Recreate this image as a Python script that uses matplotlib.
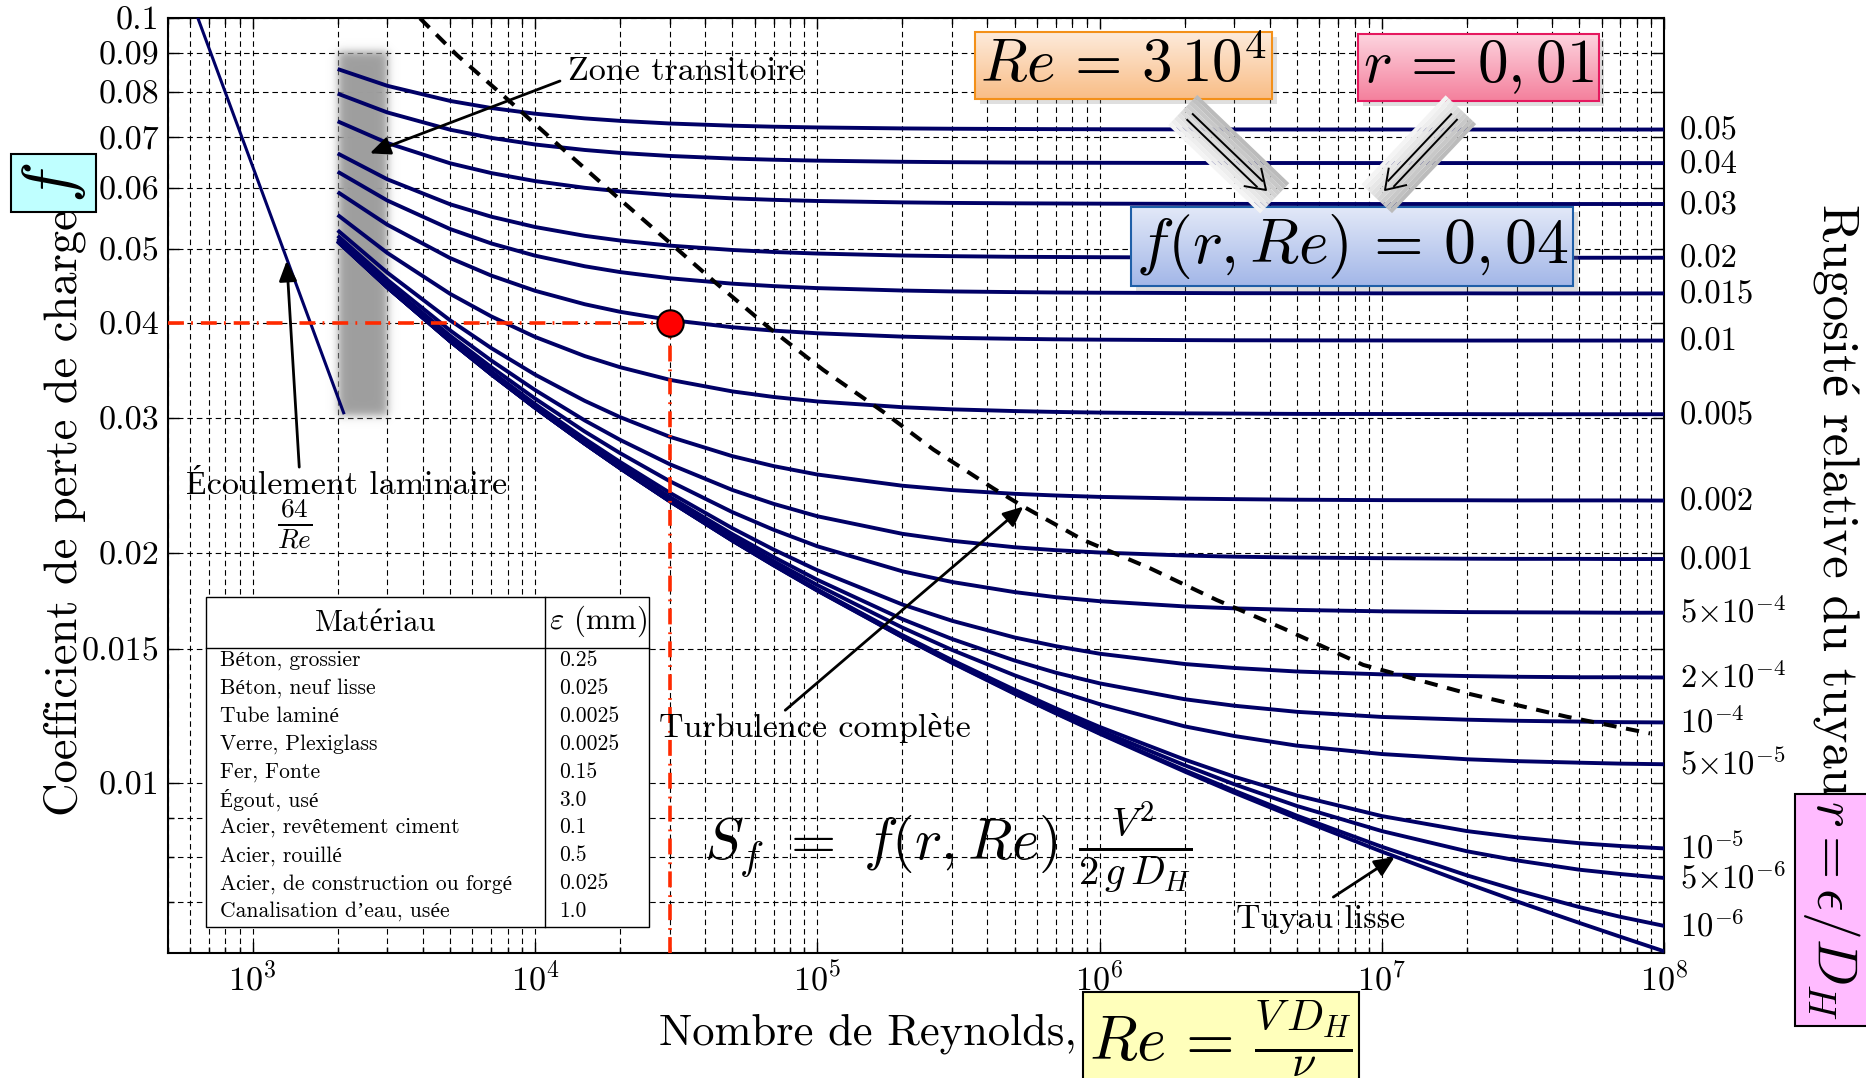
import numpy as np
import matplotlib
matplotlib.use('Agg')
import matplotlib.pyplot as plt
import matplotlib.transforms as mtransforms
from matplotlib.colors import to_rgb
from matplotlib.lines import Line2D
from matplotlib.patches import Rectangle, Polygon
from matplotlib.ticker import FixedLocator, NullFormatter, LogLocator

plt.rcParams['font.family'] = ['cmr10', 'Liberation Serif']
plt.rcParams['mathtext.fontset'] = 'cm'
plt.rcParams['axes.formatter.use_mathtext'] = True

# Reynolds numbers where the friction factor curves are sampled
re_grid = [2e3, 3e3, 5e3, 7e3, 1e4, 1.5e4, 2e4, 3e4, 5e4, 7e4, 1e5, 2e5, 3e5,
           5e5, 7e5, 1e6, 2e6, 3e6, 5e6, 1e7, 2e7, 3e7, 5e7, 7e7, 1e8]

# friction factor f for each relative roughness r
f_005 = [0.08584, 0.08161, 0.07799, 0.07634, 0.07504, 0.07399, 0.07344, 0.07286, 0.07238, 0.07216, 0.07200, 0.07179, 0.07172, 0.07166, 0.07163, 0.07161, 0.07158, 0.07157, 0.07156, 0.07156, 0.07155, 0.07155, 0.07155, 0.07155, 0.07155]
f_004 = [0.07972, 0.07532, 0.07152, 0.06978, 0.06840, 0.06728, 0.06669, 0.06608, 0.06556, 0.06533, 0.06515, 0.06493, 0.06485, 0.06478, 0.06475, 0.06473, 0.06470, 0.06469, 0.06469, 0.06468, 0.06468, 0.06467, 0.06467, 0.06467, 0.06467]
f_003 = [0.07334, 0.06870, 0.06464, 0.06276, 0.06127, 0.06004, 0.05940, 0.05873, 0.05816, 0.05790, 0.05770, 0.05746, 0.05737, 0.05730, 0.05727, 0.05724, 0.05721, 0.05720, 0.05719, 0.05718, 0.05718, 0.05718, 0.05718, 0.05718, 0.05718]
f_002 = [0.06658, 0.06159, 0.05714, 0.05504, 0.05336, 0.05196, 0.05123, 0.05045, 0.04979, 0.04949, 0.04926, 0.04897, 0.04887, 0.04878, 0.04875, 0.04872, 0.04868, 0.04867, 0.04866, 0.04865, 0.04864, 0.04864, 0.04864, 0.04864, 0.04864]
f_0015 = [0.06302, 0.05778, 0.05304, 0.05078, 0.04895, 0.04741, 0.04659, 0.04573, 0.04499, 0.04466, 0.04439, 0.04407, 0.04395, 0.04386, 0.04381, 0.04378, 0.04374, 0.04372, 0.04371, 0.04370, 0.04370, 0.04369, 0.04369, 0.04369, 0.04369]
f_001 = [0.05928, 0.05372, 0.04860, 0.04610, 0.04404, 0.04229, 0.04134, 0.04034, 0.03946, 0.03906, 0.03875, 0.03836, 0.03822, 0.03811, 0.03805, 0.03801, 0.03796, 0.03794, 0.03793, 0.03792, 0.03791, 0.03791, 0.03791, 0.03791, 0.03791]
f_0005 = [0.05533, 0.04934, 0.04364, 0.04077, 0.03833, 0.03618, 0.03499, 0.03369, 0.03253, 0.03199, 0.03156, 0.03102, 0.03082, 0.03066, 0.03058, 0.03052, 0.03045, 0.03043, 0.03040, 0.03039, 0.03038, 0.03037, 0.03037, 0.03037, 0.03037]
f_0002 = [0.05283, 0.04650, 0.04030, 0.03706, 0.03422, 0.03162, 0.03011, 0.02838, 0.02677, 0.02598, 0.02533, 0.02449, 0.02417, 0.02390, 0.02378, 0.02368, 0.02356, 0.02352, 0.02348, 0.02345, 0.02344, 0.02343, 0.02343, 0.02343, 0.02342]
f_0001 = [0.05197, 0.04551, 0.03910, 0.03570, 0.03267, 0.02981, 0.02812, 0.02613, 0.02418, 0.02319, 0.02234, 0.02119, 0.02075, 0.02035, 0.02017, 0.02003, 0.01985, 0.01978, 0.01973, 0.01969, 0.01966, 0.01965, 0.01965, 0.01964, 0.01964]
f_5em4 = [0.05153, 0.04500, 0.03848, 0.03499, 0.03184, 0.02883, 0.02702, 0.02483, 0.02262, 0.02145, 0.02041, 0.01893, 0.01833, 0.01778, 0.01751, 0.01730, 0.01703, 0.01693, 0.01685, 0.01678, 0.01674, 0.01673, 0.01672, 0.01671, 0.01671]
f_2em4 = [0.05127, 0.04470, 0.03810, 0.03455, 0.03132, 0.02821, 0.02631, 0.02398, 0.02155, 0.02021, 0.01899, 0.01713, 0.01631, 0.01551, 0.01511, 0.01477, 0.01432, 0.01415, 0.01400, 0.01388, 0.01381, 0.01378, 0.01376, 0.01376, 0.01375]
f_1em4 = [0.05118, 0.04459, 0.03797, 0.03440, 0.03115, 0.02800, 0.02606, 0.02368, 0.02117, 0.01976, 0.01845, 0.01639, 0.01544, 0.01447, 0.01395, 0.01351, 0.01288, 0.01263, 0.01240, 0.01221, 0.01211, 0.01207, 0.01204, 0.01202, 0.01201]
f_5em5 = [0.05114, 0.04454, 0.03791, 0.03433, 0.03106, 0.02789, 0.02594, 0.02353, 0.02097, 0.01952, 0.01816, 0.01598, 0.01494, 0.01384, 0.01323, 0.01269, 0.01187, 0.01153, 0.01120, 0.01092, 0.01075, 0.01069, 0.01064, 0.01061, 0.01059]
f_1em5 = [0.05110, 0.04450, 0.03786, 0.03427, 0.03099, 0.02781, 0.02584, 0.02340, 0.02080, 0.01932, 0.01792, 0.01562, 0.01449, 0.01325, 0.01253, 0.01185, 0.01074, 0.01020, 0.00964, 0.00906, 0.00866, 0.00850, 0.00835, 0.00828, 0.00822]
f_5em6 = [0.05110, 0.04450, 0.03785, 0.03426, 0.03098, 0.02780, 0.02583, 0.02339, 0.02078, 0.01930, 0.01789, 0.01558, 0.01443, 0.01317, 0.01244, 0.01173, 0.01056, 0.00997, 0.00934, 0.00866, 0.00815, 0.00793, 0.00771, 0.00761, 0.00752]
f_1em6 = [0.05109, 0.04449, 0.03785, 0.03425, 0.03097, 0.02779, 0.02582, 0.02338, 0.02076, 0.01928, 0.01787, 0.01554, 0.01439, 0.01311, 0.01236, 0.01163, 0.01040, 0.00978, 0.00907, 0.00826, 0.00758, 0.00725, 0.00689, 0.00669, 0.00651]
f_lisse = [0.05109, 0.04449, 0.03785, 0.03425, 0.03097, 0.02779, 0.02581, 0.02337, 0.02076, 0.01927, 0.01786, 0.01553, 0.01437, 0.01309, 0.01234, 0.01161, 0.01036, 0.00972, 0.00900, 0.00814, 0.00740, 0.00701, 0.00657, 0.00630, 0.00603]

curves = [f_005, f_004, f_003, f_002, f_0015, f_001, f_0005, f_0002, f_0001, f_5em4,
          f_2em4, f_1em4, f_5em5, f_1em5, f_5em6, f_1em6, f_lisse]
r_labels = ['0.05', '0.04', '0.03', '0.02', '0.015', '0.01', '0.005', '0.002', '0.001',
            r'$5{\times}10^{-4}$', r'$2{\times}10^{-4}$', r'$10^{-4}$', r'$5{\times}10^{-5}$',
            r'$10^{-5}$', r'$5{\times}10^{-6}$', r'$10^{-6}$', None]

# laminar branch
lam_re = [640, 2100]
lam_f = [0.1, 0.0305]

# limit of the fully rough zone
turb_re = [3914, 5279, 8042, 1.226e4, 1.894e4, 2.93e4, 4.40e4, 6.80e4, 1.05e5, 1.71e5,
           2.58e5, 4.20e5, 5.37e5, 8.75e5, 1.51e6, 2.60e6, 4.47e6, 8.59e6, 2.0e7, 4.51e7, 8.91e7]
turb_f = [0.1, 0.0896, 0.0782, 0.0680, 0.0590, 0.0513, 0.0450, 0.0393, 0.0347, 0.0306,
          0.0273, 0.0243, 0.0230, 0.0208, 0.0191, 0.01736, 0.01594, 0.01428, 0.01311, 0.01222, 0.01162]

# worked example point
sel_re, sel_f = 3e4, 0.04
band_re = (2000, 3000)
band_f = (0.0302, 0.0905)

yticks = [0.01, 0.015, 0.02, 0.03, 0.04, 0.05, 0.06, 0.07, 0.08, 0.09, 0.1]
ytick_labels = ['0.01', '0.015', '0.02', '0.03', '0.04', '0.05', '0.06', '0.07', '0.08', '0.09', '0.1']
yminor = [0.007, 0.008, 0.009]

materials = ['Béton, grossier', 'Béton, neuf lisse', 'Tube laminé', 'Verre, Plexiglass',
             'Fer, Fonte', 'Égout, usé', 'Acier, revêtement ciment', 'Acier, rouillé',
             'Acier, de construction ou forgé', 'Canalisation d’eau, usée']
eps_mm = ['0.25', '0.025', '0.0025', '0.0025', '0.15', '3.0', '0.1', '0.5', '0.025', '1.0']

W, H = 1866, 1078
fig = plt.figure(figsize=(W / 100, H / 100), dpi=100)


def fx(px):
    return px / W


def fy(py):
    return (H - py) / H


ax = fig.add_axes([fx(167.7), fy(953), (1664.2 - 167.7) / W, (953 - 18.3) / H])
ax.set_xscale('log')
ax.set_yscale('log')
ax.set_xlim(500, 1e8)
ax.set_ylim(0.006, 0.1)
ax.set_axisbelow(True)

navy = '#000066'
for f in curves:
    ax.plot(re_grid, f, color=navy, lw=2.8, zorder=3, solid_capstyle='butt')
ax.plot(lam_re, lam_f, color=navy, lw=2.2, zorder=3)
ax.plot(turb_re, turb_f, color='k', lw=2.9, dashes=(3.3, 2.4), zorder=4)

red = '#ff2a00'
ax.plot([500, sel_re], [sel_f, sel_f], color=red, lw=2.6, dashes=(4.4, 2.0, 0.5, 2.2), zorder=3.5)
ax.plot([sel_re, sel_re], [0.006, sel_f], color=red, lw=2.6, dashes=(4.4, 2.0, 0.5, 2.2), zorder=3.5)
ax.plot([sel_re], [sel_f], 'o', ms=19, mfc='#ff0000', mec='k', mew=1.5, zorder=6)

ax.xaxis.set_major_locator(LogLocator(base=10, numticks=20))
ax.xaxis.set_minor_locator(LogLocator(base=10, subs=np.arange(2, 10), numticks=100))
ax.xaxis.set_minor_formatter(NullFormatter())
ax.yaxis.set_major_locator(FixedLocator(yticks))
ax.set_yticklabels(ytick_labels)
ax.yaxis.set_minor_locator(FixedLocator(yminor))
ax.yaxis.set_minor_formatter(NullFormatter())
ax.grid(True, which='both', color='k', lw=0.8, ls=(0, (5, 3.5)))
ax.tick_params(which='both', direction='in', top=True, right=True, labelsize=24.5, width=1)
ax.tick_params(which='major', length=8, pad=6)
ax.tick_params(which='minor', length=4)
for s in ax.spines.values():
    s.set_linewidth(1.5)


def to_axes(x, y):
    return ax.transAxes.inverted().transform(ax.transData.transform((x, y)))


# grey shaded transition zone with soft edges
def soft_band(x0, x1, y0, y1, blur=5.0, margin=22):
    (a0, b0) = to_axes(x0, y0)
    (a1, b1) = to_axes(x1, y1)
    pw, ph = ax.bbox.width, ax.bbox.height
    ex0, ex1 = a0 - margin / pw, a1 + margin / pw
    ey0, ey1 = b0 - margin / ph, b1 + margin / ph
    nx, ny = int((ex1 - ex0) * pw), int((ey1 - ey0) * ph)
    xs = np.linspace(ex0, ex1, nx) * pw
    ys = np.linspace(ey1, ey0, ny) * ph
    sx = 0.5 * (np.tanh((xs - a0 * pw) / blur) - np.tanh((xs - a1 * pw) / blur))
    sy = 0.5 * (np.tanh((ys - b0 * ph) / blur) - np.tanh((ys - b1 * ph) / blur))
    img = np.zeros((ny, nx, 4))
    img[..., :3] = 0.62
    img[..., 3] = sy[:, None] * sx[None, :]
    ax.imshow(img, extent=(ex0, ex1, ey0, ey1), transform=ax.transAxes, aspect='auto',
              zorder=1.5, interpolation='bilinear')


soft_band(band_re[0], band_re[1], band_f[0], band_f[1])

# roughness values written at the end of each curve
ytrans = mtransforms.blended_transform_factory(ax.transAxes, ax.transData)
ytrans = mtransforms.offset_copy(ytrans, x=0, y=-10.2, units='dots')
for f, lab in zip(curves, r_labels):
    if lab:
        ax.text(1.0107, f[-1], lab, transform=ytrans, ha='left', va='baseline',
                fontsize=23.5, clip_on=False)

arrow = dict(arrowstyle='-|>,head_length=0.45,head_width=0.2', color='k', lw=2,
             mutation_scale=27, shrinkA=0, shrinkB=0)
ax.text(1.31e4, 0.0851, 'Zone transitoire', ha='left', va='center', fontsize=24.5, zorder=7)
ax.annotate('', xy=(2600, 0.0666), xytext=(1.226e4, 0.0828), arrowprops=arrow, zorder=7)
ax.text(2159, 0.0245, 'Écoulement laminaire', ha='center', va='center', fontsize=24.5, zorder=7)
ax.text(1411, 0.0218, r'$\frac{64}{Re}$', ha='center', va='center', fontsize=28, zorder=7)
ax.annotate('', xy=(1320, 0.0482), xytext=(1462, 0.0259), arrowprops=arrow, zorder=7)
ax.text(9.8e4, 0.0118, 'Turbulence complète', ha='center', va='center', fontsize=24.5, zorder=7)
ax.annotate('', xy=(5.37e5, 0.0230), xytext=(7.7e4, 0.01246), arrowprops=arrow, zorder=7)
ax.text(6.08e6, 0.00663, 'Tuyau lisse', ha='center', va='center', fontsize=24.5, zorder=7)
ax.annotate('', xy=(1.11e7, 0.00801), xytext=(6.73e6, 0.0071), arrowprops=arrow, zorder=7)
fig.text(fx(948), fy(847), r'$S_f\ =\ f(r, Re)\ \frac{V^2}{2\,g\,D_H}$', ha='center',
         va='center', fontsize=42)

# material roughness table
tx0, tx1, tcol = 205.6, 648.6, 545.0
ty0, ty1, tsep = 597.0, 927.0, 647.5
fig.add_artist(Rectangle((fx(tx0), fy(ty1)), (tx1 - tx0) / W, (ty1 - ty0) / H,
                         transform=fig.transFigure, fc='white', ec='k', lw=1.0, zorder=8))
fig.add_artist(Line2D([fx(tx0), fx(tx1)], [fy(tsep), fy(tsep)], color='k', lw=1.0, zorder=9))
fig.add_artist(Line2D([fx(tcol), fx(tcol)], [fy(ty0), fy(ty1)], color='k', lw=1.0, zorder=9))
fig.text(fx((tx0 + tcol) / 2), fy(623), 'Matériau', ha='center', va='center', fontsize=22, zorder=10)
fig.text(fx(549), fy(621), r'$\varepsilon$ (mm)', ha='left', va='center', fontsize=22, zorder=10)
for i, (m, e) in enumerate(zip(materials, eps_mm)):
    yy = 660 + i * 27.95
    fig.text(fx(220), fy(yy), m, ha='left', va='center', fontsize=15.5, zorder=10)
    fig.text(fx(558.7), fy(yy), e, ha='left', va='center', fontsize=15.5, zorder=10)

# axis titles with boxed symbols
fig.text(fx(65), fy(513), 'Coefficient de perte de charge', rotation=90, ha='center',
         va='center', fontsize=33.5)
fig.text(fx(53.5), fy(183), r'$f$', rotation=90, ha='center', va='center', fontsize=50,
         bbox=dict(boxstyle='square,pad=0.12', fc='#bfffff', ec='k', lw=1.5))
fig.text(fx(1077), fy(1045), 'Nombre de Reynolds,', ha='right', va='baseline', fontsize=32)
fig.text(fx(1221), fy(1039), r'$Re\,=\,\frac{V\,D_H}{\nu}$', ha='center', va='center',
         fontsize=45, bbox=dict(boxstyle='square,pad=0.1', fc='#ffffbb', ec='k', lw=1.5))
fig.text(fx(1835.5), fy(500), 'Rugosité relative du tuyau', rotation=-90, ha='center',
         va='center', fontsize=36.5)
fig.text(fx(1831.5), fy(910), r'$r = \epsilon/D_H$', rotation=-90, ha='center', va='center',
         fontsize=40, bbox=dict(boxstyle='square,pad=0.1', fc='#ffbbff', ec='k', lw=1.5))

# worked example: Re and r give f
boxes = [
    (0.6387, 0.9497, r'$Re\,=\,3\,10^4$', 44, '#f39019', '#fdebdc', '#f9bd86'),
    (0.8759, 0.9476, r'$r\,=\,0,01$', 44, '#e5195f', '#fdd5df', '#f4809d'),
    (0.7914, 0.7561, r'$f(r, Re)\,=\,0,04$', 46, '#1f5fa8', '#e3e9f8', '#a3b7e8'),
]
box_texts = []
for bx, by, s, fs, ec, c_top, c_bot in boxes:
    t = ax.text(bx, by, s, transform=ax.transAxes, ha='center', va='center', fontsize=fs,
                zorder=7, bbox=dict(boxstyle='square,pad=0.08', fc='none', ec=ec, lw=1.5))
    box_texts.append((t, c_top, c_bot))

fig.canvas.draw()
for t, c_top, c_bot in box_texts:
    bb = t.get_bbox_patch().get_window_extent()
    (x0, y0), (x1, y1) = ax.transAxes.inverted().transform(bb.get_points())
    g = np.linspace(0, 1, 64)[:, None, None]
    img = np.array(to_rgb(c_top)) + (np.array(to_rgb(c_bot)) - np.array(to_rgb(c_top))) * g
    ax.imshow(img, extent=(x0, x1, y0, y1), transform=ax.transAxes, aspect='auto',
              zorder=6.9, interpolation='bilinear', clip_on=False)
    dx, dy = 5 / ax.bbox.width, 5 / ax.bbox.height
    ax.add_patch(Rectangle((x0 + dx, y0 - dy), x1 - x0, y1 - y0, transform=ax.transAxes,
                           fc='0.5', ec='none', alpha=0.25, zorder=6.8, clip_on=False))


def double_arrow(tail, tip, half=21, n_strips=10):
    t = np.array(tail, float)
    p = np.array(tip, float)
    u = (p - t) / np.hypot(*(p - t))
    n = np.array([-u[1], u[0]])
    a = t - 10 * u
    b = p + 12 * u
    for k in range(n_strips):
        o0 = -half + 2 * half * k / n_strips
        o1 = -half + 2 * half * (k + 1) / n_strips
        g = 0.72 + 0.25 * (k + 0.5) / n_strips
        pts = [a + o0 * n, b + o0 * n, b + o1 * n, a + o1 * n]
        fig.add_artist(Polygon([(fx(q[0]), fy(q[1])) for q in pts], closed=True,
                               transform=fig.transFigure, fc=str(g), ec='none', zorder=5))
    for s in (-4.0, 4.0):
        q0 = t + s * n
        q1 = p - 9 * u + s * n
        fig.add_artist(Line2D([fx(q0[0]), fx(q1[0])], [fy(q0[1]), fy(q1[1])], color='k',
                              lw=1.4, zorder=6))
    h1 = p - 18 * u + 12 * n
    h2 = p - 18 * u - 12 * n
    fig.add_artist(Line2D([fx(h1[0]), fx(p[0]), fx(h2[0])], [fy(h1[1]), fy(p[1]), fy(h2[1])],
                          color='k', lw=1.4, zorder=6))


double_arrow((1190, 117), (1266, 190))
double_arrow((1454, 117), (1385, 190))

ax.set_xlim(500, 1e8)
ax.set_ylim(0.006, 0.1)
fig.savefig('out.png', dpi=100)
